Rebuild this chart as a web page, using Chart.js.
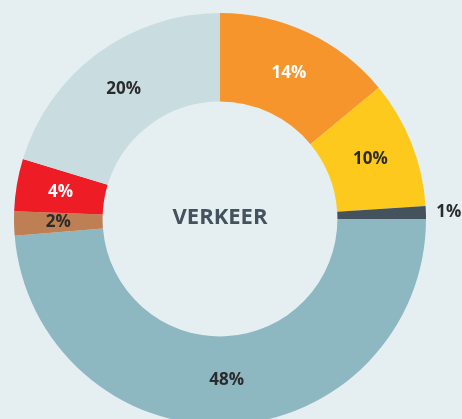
<!DOCTYPE html>
<html lang="nl">
<head>
<meta charset="UTF-8">
<title>Verkeer</title>
<script src="https://cdn.jsdelivr.net/npm/chart.js"></script>
<style>
  html, body { margin: 0; padding: 0; background: #e5eff1; overflow: hidden; }
  .grafico { position: relative; width: 462px; height: 440px; }
</style>
</head>
<body>
<div class="grafico">
  <canvas id="myChart" width="462" height="440"></canvas>
</div>
<script>
// data, clockwise from 12 o'clock
const categorias = ['a', 'b', 'c', 'd', 'e', 'f', 'g'];
const valores = [14, 10, 1, 48.7, 1.9, 4.1, 20.3];
const rotulos = ['14%', '10%', '1%', '48%', '2%', '4%', '20%'];
const cores = ['#f7952d', '#fec91d', '#44525e', '#8db8c1', '#bd7f53', '#ee1c25', '#c9dde1'];
const corTexto = ['#ffffff', '#2b2b2b', '#2b2b2b', '#2b2b2b', '#2b2b2b', '#ffffff', '#2b2b2b'];
const titulo = 'VERKEER';

// labels on the slices + center text
const rotulosPlugin = {
  id: 'rotulos',
  afterDatasetsDraw(chart) {
    const ctx = chart.ctx;
    const meta = chart.getDatasetMeta(0);
    ctx.save();
    ctx.textAlign = 'center';
    ctx.textBaseline = 'middle';
    ctx.font = 'bold 17px "Open Sans"';
    meta.data.forEach(function (arc, i) {
      const p = arc.getProps(['x', 'y', 'startAngle', 'endAngle', 'innerRadius', 'outerRadius'], true);
      const meio = (p.startAngle + p.endAngle) / 2;
      let r = (p.innerRadius + p.outerRadius) / 2;
      if (valores[i] < 1.5) r = p.outerRadius + 23;
      ctx.fillStyle = corTexto[i];
      ctx.fillText(rotulos[i], p.x + Math.cos(meio) * r, p.y + Math.sin(meio) * r);
    });
    const c = meta.data[0];
    ctx.fillStyle = '#44525e';
    ctx.font = 'bold 22px "Open Sans"';
    ctx.fillText(titulo, c.x, c.y - 1);
    ctx.restore();
  }
};

const config = {
  type: 'doughnut',
  data: {
    labels: categorias,
    datasets: [{
      data: valores,
      backgroundColor: cores,
      borderWidth: 0
    }]
  },
  options: {
    responsive: false,
    animation: false,
    cutout: '57%',
    layout: { padding: { left: 14, right: 36, top: 13, bottom: 15 } },
    plugins: {
      legend: { display: false },
      tooltip: { enabled: false }
    }
  },
  plugins: [rotulosPlugin]
};

let myChart = new Chart(document.getElementById('myChart'), config);
</script>
</body>
</html>
